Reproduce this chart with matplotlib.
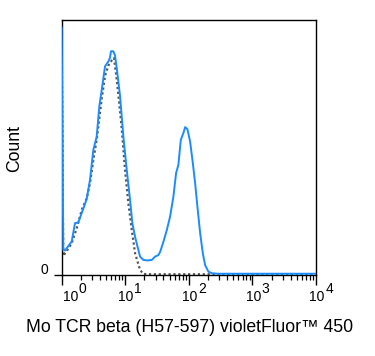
import numpy as np
import matplotlib
matplotlib.use("Agg")
import matplotlib.pyplot as plt
from matplotlib.transforms import blended_transform_factory, offset_copy

plt.rcParams['font.family'] = ['Liberation Sans', 'DejaVu Sans']

# log10 fluorescence positions and counts (% of axis height)
blue_log = [0.0, 0.003, 0.028, 0.055, 0.10, 0.160, 0.212, 0.264, 0.343, 0.396, 0.448,
            0.500, 0.553, 0.594, 0.632, 0.684, 0.736, 0.760, 0.778, 0.814, 0.840, 0.868,
            0.920, 0.972, 1.025, 1.077, 1.113, 1.156, 1.234, 1.286, 1.350, 1.418,
            1.470, 1.522, 1.550, 1.601, 1.654, 1.706, 1.758, 1.800, 1.836, 1.874,
            1.915, 1.942, 1.978, 2.020, 2.063, 2.099, 2.135, 2.178, 2.220, 2.256,
            2.308, 2.362, 2.45, 3.0, 3.5, 4.0]
blue_count = [97.0, 96.0, 9.8, 9.6, 11.1, 13.1, 20.3, 20.6, 26.0, 29.8, 37.3,
              49.0, 54.2, 66.0, 72.5, 81.7, 83.6, 85.0, 87.6, 87.6, 86.0, 81.0,
              70.0, 54.2, 41.2, 29.4, 20.3, 14.9, 7.2, 5.9, 5.7, 5.9,
              7.2, 7.8, 9.1, 13.0, 17.6, 22.9, 30.7, 39.9, 43.1, 52.9,
              55.6, 57.9, 57.1, 52.3, 43.8, 36.0, 26.8, 16.4, 8.5, 3.9,
              1.3, 0.7, 0.5, 0.5, 0.5, 0.5]

gray_log = [0.0, 0.003, 0.028, 0.071, 0.160, 0.239, 0.318, 0.396, 0.448, 0.500,
            0.553, 0.632, 0.684, 0.736, 0.789, 0.825, 0.868, 0.920, 0.947, 0.998,
            1.050, 1.104, 1.156, 1.234, 1.286, 1.39, 2.0, 3.0, 4.0]
gray_count = [95.0, 94.0, 7.5, 9.0, 12.4, 18.3, 25.5, 30.0, 36.0, 45.0,
              53.0, 69.0, 78.0, 82.0, 84.0, 85.0, 76.5, 64.0, 57.0, 41.2,
              28.1, 17.6, 8.5, 2.0, 0.4, 0.3, 0.3, 0.3, 0.3]

decades = [0, 1, 2, 3, 4]
xlabel = "Mo TCR beta (H57-597) violetFluor\u2122 450"
ylabel = "Count"

fig = plt.figure(figsize=(3.75, 3.56), dpi=100)
ax = fig.add_axes([0.164, 0.2275, 0.679, 0.7175])

ax.plot(10 ** np.array(gray_log), gray_count, color="#555555", lw=1.6,
        linestyle=(0, (1, 1.2)), zorder=2)
ax.plot(10 ** np.array(blue_log), blue_count, color="#1a8cff", lw=1.4, zorder=3)

ax.set_xscale("log")
ax.set_xlim(1, 1e4)
ax.set_ylim(0, 100)

for s in ax.spines.values():
    s.set_linewidth(1.0)
    s.set_color("black")

ax.xaxis.set_major_locator(matplotlib.ticker.FixedLocator([10 ** d for d in decades]))
ax.xaxis.set_minor_locator(matplotlib.ticker.LogLocator(base=10, subs=np.arange(2, 10), numticks=20))
ax.xaxis.set_major_formatter(matplotlib.ticker.NullFormatter())
ax.xaxis.set_minor_formatter(matplotlib.ticker.NullFormatter())
ax.tick_params(axis="x", which="major", direction="out", length=7, width=1.0, color="black")
ax.tick_params(axis="x", which="minor", direction="out", length=3.5, width=0.9, color="black")
ax.set_yticks([0])
ax.set_yticklabels([""])
ax.tick_params(axis="y", which="major", direction="out", length=6, width=1.0, left=True, right=False)

trans = blended_transform_factory(ax.transData, ax.transAxes)
for d in decades:
    dx = 9 if d == 0 else 1
    t_base = offset_copy(trans, fig=fig, x=dx, y=-25.5, units="dots")
    ax.text(10 ** d, 0, "10", transform=t_base, ha="center", va="baseline",
            fontsize=10, color="black")
    t_sup = offset_copy(trans, fig=fig, x=dx + 8, y=-17.5, units="dots")
    ax.text(10 ** d, 0, str(d), transform=t_sup, ha="left", va="baseline",
            fontsize=10, color="black")

ytrans = blended_transform_factory(ax.transAxes, ax.transData)
t0 = offset_copy(ytrans, fig=fig, x=-13, y=5, units="dots")
ax.text(0, 0, "0", transform=t0, ha="right", va="center", fontsize=10)

fig.text(189.5 / 375, 1 - 327 / 356, xlabel, ha="center", va="center", fontsize=12.7)
fig.text(15 / 375, 1 - 148 / 356, ylabel, ha="center", va="center", rotation=90, fontsize=12.7)

fig.savefig("out.png", dpi=100)
